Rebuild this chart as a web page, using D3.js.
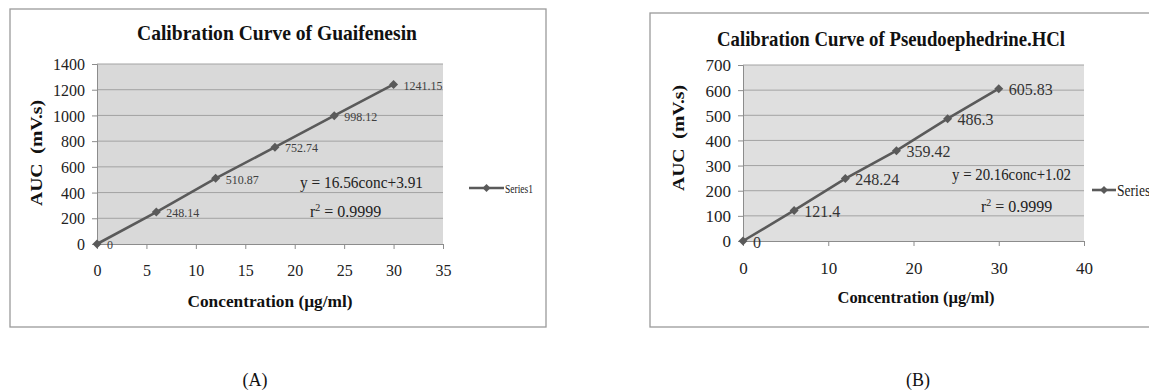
<!doctype html>
<html lang="en">
  <head>
    <meta charset="utf-8">
    <title>Calibration Curves</title>
    <script src="https://d3js.org/d3.v7.min.js"></script>
    <style>
      body { margin: 0; background: #fff; }
      text { font-family: "Liberation Serif", "Times New Roman", serif; }
    </style>
  </head>
  <body>
    <div id="container"></div>
  </body>
  <script>
    // chart data
    const concentrations = [0, 6, 12, 18, 24, 30]
    const guaiAuc = [0, 248.14, 510.87, 752.74, 998.12, 1241.15]
    const pseudoAuc = [0, 121.4, 248.24, 359.42, 486.3, 605.83]
    const guaiYTicks = [0, 200, 400, 600, 800, 1000, 1200, 1400]
    const guaiXTicks = [0, 5, 10, 15, 20, 25, 30, 35]
    const pseudoYTicks = [0, 100, 200, 300, 400, 500, 600, 700]
    const pseudoXTicks = [0, 10, 20, 30, 40]
    const seriesName = "Series1"

    const width = 1149
    const height = 391
    const lineColor = "#5a5a5a"
    const gridColor = "#a3a3a3"

    const svg = d3.select("#container")
      .append("svg")
        .attr("width", width)
        .attr("height", height)

    function diamond(g, x, y, size) {
      g.append("path")
        .attr("d", `M${x},${y - size} L${x + size},${y} L${x},${y + size} L${x - size},${y} Z`)
        .attr("fill", lineColor)
    }

    function drawChart(opts) {
      const g = svg.append("g")

      // outer frame
      g.append("rect")
        .attr("x", opts.box[0]).attr("y", opts.box[1])
        .attr("width", opts.box[2]).attr("height", opts.box[3])
        .attr("fill", "#fff").attr("stroke", "#9a9a9a").attr("stroke-width", 1.3)

      const x = d3.scaleLinear().domain(d3.extent(opts.xTicks)).range([opts.plot.left, opts.plot.right])
      const y = d3.scaleLinear().domain(d3.extent(opts.yTicks)).range([opts.plot.bottom, opts.plot.top])

      g.append("rect")
        .attr("x", opts.plot.left).attr("y", opts.plot.top)
        .attr("width", opts.plot.right - opts.plot.left)
        .attr("height", opts.plot.bottom - opts.plot.top)
        .attr("fill", opts.plotFill)

      // horizontal gridlines
      g.selectAll(".grid").data(opts.yTicks.slice(1)).join("line")
        .attr("x1", opts.plot.left).attr("x2", opts.plot.right)
        .attr("y1", d => y(d)).attr("y2", d => y(d))
        .attr("stroke", gridColor).attr("stroke-width", 1)

      // axes
      const yAxis = g.append("g")
        .attr("transform", `translate(${opts.plot.left},0)`)
        .call(d3.axisLeft(y).tickValues(opts.yTicks).tickSize(5).tickPadding(7).tickFormat(d3.format("d")))
      const xAxis = g.append("g")
        .attr("transform", `translate(0,${opts.plot.bottom})`)
        .call(d3.axisBottom(x).tickValues(opts.xTicks).tickSize(5).tickPadding(16).tickFormat(d3.format("d")))
      for (const ax of [xAxis, yAxis]) {
        ax.select(".domain").attr("stroke", "#8c8c8c")
        ax.selectAll(".tick line").attr("stroke", "#8c8c8c")
        ax.selectAll(".tick text")
          .attr("font-family", "Liberation Serif")
          .attr("font-size", opts.tickSize)
          .attr("fill", "#222")
      }
      yAxis.selectAll(".tick text").attr("dy", "0.35em")

      // titles
      g.append("text")
        .attr("x", opts.title.x).attr("y", opts.title.y)
        .attr("text-anchor", "middle").attr("font-weight", "bold")
        .attr("font-size", 21).attr("fill", "#111")
        .attr("textLength", opts.title.len).attr("lengthAdjust", "spacingAndGlyphs")
        .text(opts.title.text)
      g.append("text")
        .attr("x", opts.xTitle.x).attr("y", opts.xTitle.y)
        .attr("text-anchor", "middle").attr("font-weight", "bold")
        .attr("font-size", 17).attr("fill", "#111")
        .attr("textLength", opts.xTitle.len).attr("lengthAdjust", "spacingAndGlyphs")
        .text("Concentration (µg/ml)")
      g.append("text")
        .attr("transform", `translate(${opts.yTitle.x},${opts.yTitle.y}) rotate(-90)`)
        .attr("text-anchor", "middle").attr("font-weight", "bold")
        .attr("font-size", 17).attr("fill", "#111")
        .attr("textLength", opts.yTitle.len).attr("lengthAdjust", "spacingAndGlyphs")
        .attr("xml:space", "preserve")
        .text("AUC  (mV.s)")

      // series line + markers
      const pts = concentrations.map((c, i) => [c, opts.values[i]])
      g.append("path")
        .datum(pts)
        .attr("d", d3.line().x(d => x(d[0])).y(d => y(d[1])))
        .attr("fill", "none").attr("stroke", lineColor).attr("stroke-width", 2.6)
      pts.forEach(p => diamond(g, x(p[0]), y(p[1]), 4.5))

      // data labels
      g.selectAll(".lbl").data(pts).join("text")
        .attr("x", d => x(d[0]) + 10)
        .attr("y", d => y(d[1]) + 1)
        .attr("dy", "0.35em")
        .attr("font-family", opts.labelFont)
        .attr("font-size", opts.labelSize)
        .attr("fill", opts.labelColor)
        .text(d => d[1])

      // regression equation
      g.append("text")
        .attr("x", opts.eq.x).attr("y", opts.eq.y)
        .attr("font-size", 16).attr("fill", "#222")
        .attr("textLength", opts.eq.len).attr("lengthAdjust", "spacingAndGlyphs")
        .text(opts.eq.text)
      const r2 = g.append("text")
        .attr("x", opts.r2.x).attr("y", opts.r2.y)
        .attr("font-size", 16).attr("fill", "#222")
      r2.append("tspan").text("r")
      r2.append("tspan").attr("font-size", 10).attr("dy", -6).text("2")
      r2.append("tspan").attr("dy", 6).text(" = 0.9999")

      // legend
      const lg = opts.legend
      g.append("line")
        .attr("x1", lg.x).attr("x2", lg.x + lg.len)
        .attr("y1", lg.y).attr("y2", lg.y)
        .attr("stroke", lineColor).attr("stroke-width", 2.6)
      diamond(g, lg.x + lg.len / 2, lg.y, 4)
      g.append("text")
        .attr("x", lg.x + lg.len + 1).attr("y", lg.y)
        .attr("dy", "0.35em")
        .attr("font-size", lg.size).attr("fill", "#222")
        .attr("textLength", lg.textLen).attr("lengthAdjust", "spacingAndGlyphs")
        .text(seriesName)
    }

    drawChart({
      box: [10, 9, 536, 318],
      plot: {left: 97, right: 443, top: 64, bottom: 244},
      plotFill: "#d9d9d9",
      xTicks: guaiXTicks,
      yTicks: guaiYTicks,
      values: guaiAuc,
      tickSize: 16,
      title: {text: "Calibration Curve of Guaifenesin", x: 277, y: 40, len: 280},
      xTitle: {x: 270, y: 307, len: 165},
      yTitle: {x: 42, y: 153, len: 106},
      labelFont: "Liberation Sans",
      labelSize: 12,
      labelColor: "#404040",
      eq: {text: "y = 16.56conc+3.91", x: 300, y: 188, len: 123},
      r2: {x: 310, y: 217},
      legend: {x: 469, y: 188, len: 35, size: 13, textLen: 28}
    })

    drawChart({
      box: [650, 13, 520, 314],
      plot: {left: 743, right: 1084, top: 65, bottom: 241},
      plotFill: "#dfdfdf",
      xTicks: pseudoXTicks,
      yTicks: pseudoYTicks,
      values: pseudoAuc,
      tickSize: 17,
      title: {text: "Calibration Curve of Pseudoephedrine.HCl", x: 891, y: 46, len: 348},
      xTitle: {x: 916, y: 303, len: 157},
      yTitle: {x: 684, y: 138, len: 106},
      labelFont: "Liberation Serif",
      labelSize: 16,
      labelColor: "#333",
      eq: {text: "y = 20.16conc+1.02", x: 952, y: 180, len: 119},
      r2: {x: 981, y: 212},
      legend: {x: 1092, y: 190, len: 24, size: 16, textLen: 40}
    })

    // panel captions
    svg.append("text").attr("x", 255).attr("y", 386)
      .attr("text-anchor", "middle").attr("font-size", 18).attr("fill", "#111").text("(A)")
    svg.append("text").attr("x", 918).attr("y", 386)
      .attr("text-anchor", "middle").attr("font-size", 18).attr("fill", "#111").text("(B)")
  </script>
</html>
